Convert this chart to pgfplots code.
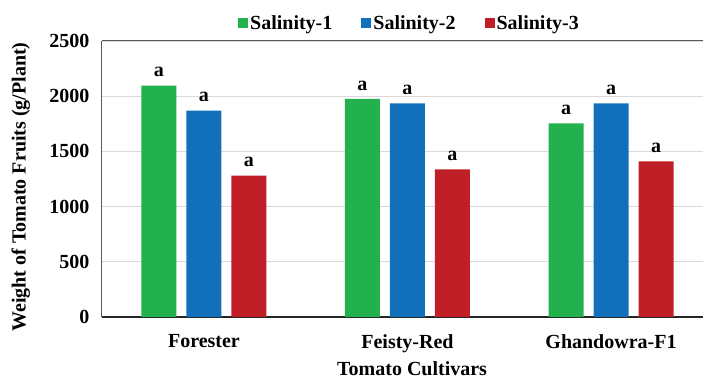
\documentclass[border=0pt]{standalone}
\usepackage{fontspec}
\setmainfont{Liberation Serif}
\usepackage{pgfplots}
\pgfplotsset{compat=1.18}

\definecolor{salA}{RGB}{34,177,76}
\definecolor{salB}{RGB}{17,112,185}
\definecolor{salC}{RGB}{192,31,39}
\definecolor{gridgray}{RGB}{217,217,217}
\definecolor{framegray}{RGB}{89,89,89}

\newcommand{\chartfont}{\fontsize{20}{22}\selectfont\bfseries}

\begin{document}
\begin{tikzpicture}
\begin{axis}[
  name=ax,
  scale only axis,
  width=601pt, height=276pt,
  ybar=10pt, bar width=35pt,
  xmin=-0.501, xmax=2.452,
  ymin=0, ymax=2500,
  xtick={0,1,2},
  xticklabels={Forester, Feisty-Red, Ghandowra-F1},
  ytick={0,500,1000,1500,2000,2500},
  major tick length=0pt,
  axis x line=bottom, axis y line=left,
  x axis line style={-, black!85, line width=1.6pt},
  y axis line style={-, framegray, line width=1pt},
  ymajorgrids, grid style={gridgray, line width=0.8pt},
  /pgf/number format/assume math mode=true,
  /pgf/number format/1000 sep={},
  font=\chartfont,
  yticklabel style={xshift=-9pt},
  xticklabel style={yshift=-14pt},
  xlabel={Tomato Cultivars},
  ylabel={Weight of Tomato Fruits (g/Plant)},
  xlabel style={at={(axis description cs:0.516,-0.188)}, anchor=center},
  ylabel style={at={(axis description cs:-0.135,0.471)}, anchor=center},
  nodes near coords={a},
  every node near coord/.append style={font=\chartfont, yshift=5pt},
  legend style={draw=none, at={(0.5,1.0)}, anchor=south, yshift=6pt, xshift=7pt,
    legend columns=3, font=\chartfont,
    /tikz/every even column/.append style={column sep=27pt}},
  legend image code/.code={\fill[#1] (0pt,-5pt) rectangle (10pt,5pt);},
]
\addplot[fill=salA, draw=none] coordinates {(0,2095) (1,1975) (2,1754)};
\addplot[fill=salB, draw=none] coordinates {(0,1869) (1,1936) (2,1936)};
\addplot[fill=salC, draw=none] coordinates {(0,1280) (1,1338) (2,1410)};
\legend{Salinity-1, Salinity-2, Salinity-3}
\draw[framegray, line width=1pt] (rel axis cs:0,1) -- (rel axis cs:1,1);
\end{axis}
\pgfresetboundingbox
\path ([xshift=-102pt,yshift=-62pt]ax.south west) rectangle ([xshift=1pt,yshift=41pt]ax.north east);
\end{tikzpicture}
\end{document}
